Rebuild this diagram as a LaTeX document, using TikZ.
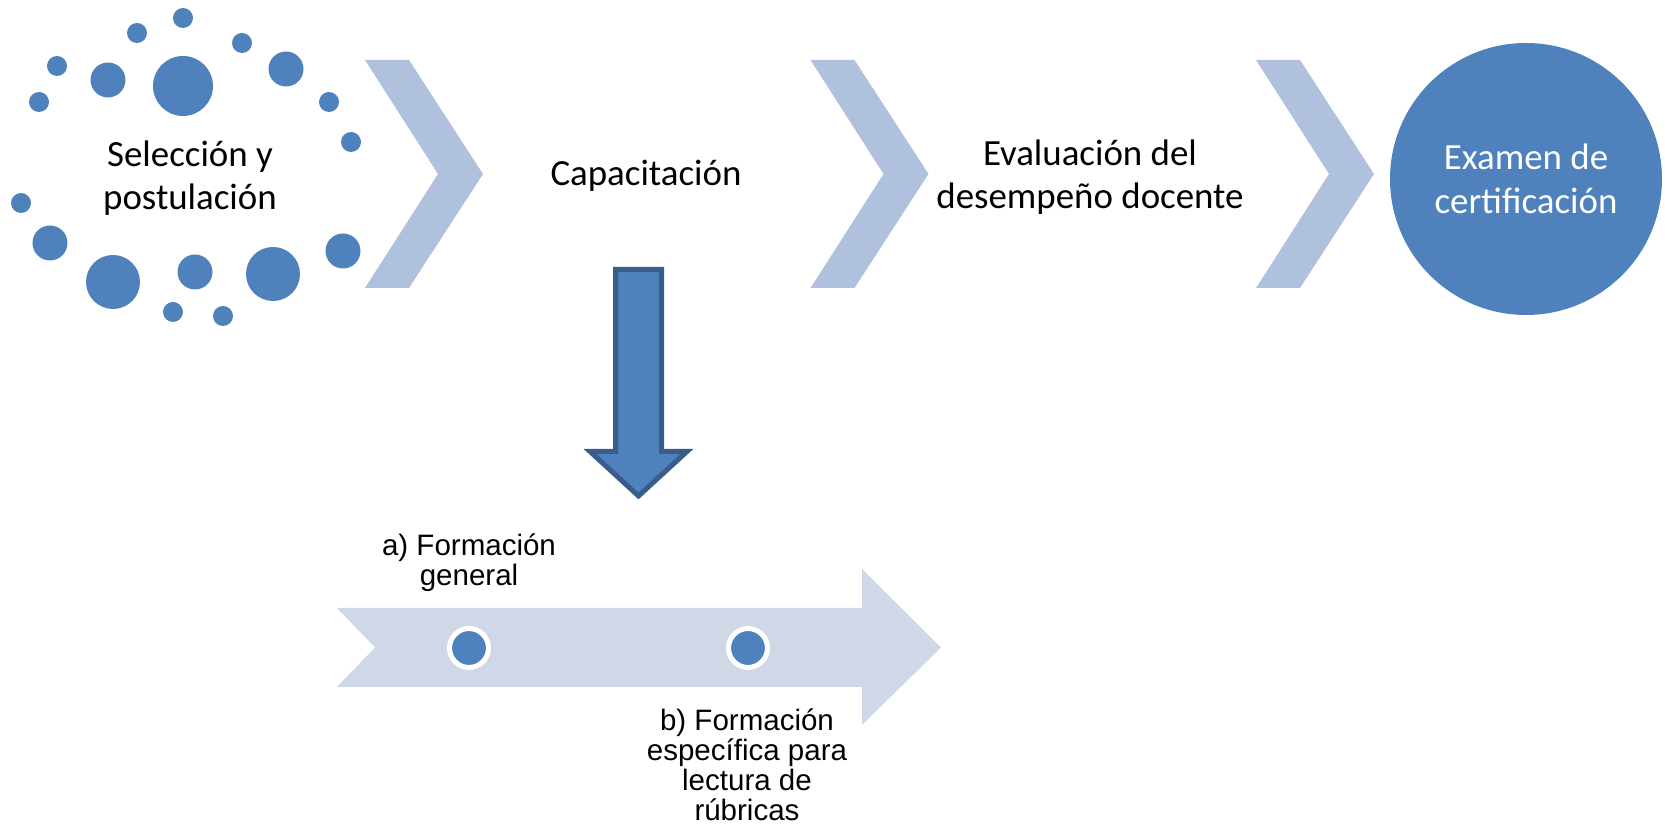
\documentclass[tikz,border=0pt]{standalone}
\usepackage{fontspec}
\setmainfont{Carlito}
\newfontfamily\arialfont{Liberation Sans}
\definecolor{dotblue}{HTML}{4F81BD}
\definecolor{darkblue}{HTML}{385D8A}
\definecolor{chevblue}{HTML}{B0C1DE}
\definecolor{lineblue}{HTML}{D0D8E8}

\begin{document}
\begin{tikzpicture}[
  dot/.style={fill=dotblue},
  chev/.style={fill=chevblue},
  stage/.style={align=center, font=\fontsize{10.5pt}{12.4pt}\selectfont},
  note/.style={align=center, font=\arialfont\fontsize{8.4pt}{8.5pt}\selectfont},
  mark dot/.style={circle, fill=dotblue, draw=white, line width=0.05cm, inner sep=0pt, minimum size=0.39cm}]
  \useasboundingbox (0,0) rectangle (16.65,-8.24);
  % circle of dots
  \foreach \x/\y/\r in {1.83/-0.18/0.10, 1.37/-0.33/0.10, 2.42/-0.43/0.10, 0.57/-0.66/0.10,
      1.08/-0.80/0.175, 1.83/-0.86/0.30, 2.86/-0.69/0.175, 0.39/-1.02/0.10, 3.29/-1.02/0.10,
      3.51/-1.42/0.10, 0.21/-2.03/0.10, 0.50/-2.43/0.175, 1.13/-2.82/0.27, 1.95/-2.72/0.175,
      2.73/-2.74/0.27, 3.43/-2.51/0.175, 1.73/-3.12/0.10, 2.23/-3.16/0.10}
    \fill[dot] (\x,\y) circle (\r);
  % chevrons
  \foreach \s in {0,4.455,8.91}
    \fill[chev] (3.65+\s,-0.60) -- (4.09+\s,-0.60) -- (4.83+\s,-1.74) -- (4.09+\s,-2.88)
      -- (3.65+\s,-2.88) -- (4.38+\s,-1.74) -- cycle;
  \node[circle, fill=dotblue, minimum size=2.72cm] (exam) at (15.26,-1.79) {};
  \node[stage] (sel) at (1.90,-1.78) {Selección y\\postulación};
  \node[stage] (cap) at (6.46,-1.76) {Capacitación};
  \node[stage] (eval) at (10.90,-1.77) {Evaluación del\\desempeño docente};
  \node[stage, text=white] (examtxt) at (exam.center) {Examen de\\certificación};
  % down arrow
  \filldraw[fill=dotblue, draw=darkblue, line width=0.05cm, line join=miter]
    (6.155,-2.695) -- (6.615,-2.695) -- (6.615,-4.515) -- (6.87,-4.515) -- (6.385,-4.96)
    -- (5.90,-4.515) -- (6.155,-4.515) -- cycle;
  % timeline
  \fill[lineblue] (3.37,-6.08) -- (8.62,-6.08) -- (8.62,-5.69) -- (9.41,-6.475) -- (8.62,-7.25)
    -- (8.62,-6.87) -- (3.37,-6.87) -- (3.75,-6.475) -- cycle;
  \node[mark dot] (m1) at (4.69,-6.48) {};
  \node[mark dot] (m2) at (7.48,-6.48) {};
  \node[note] (gen) at (4.69,-5.63) {a) Formación\\general};
  \node[note] (esp) at (7.47,-7.65) {b) Formación\\específica para\\lectura de\\rúbricas};
\end{tikzpicture}
\end{document}
